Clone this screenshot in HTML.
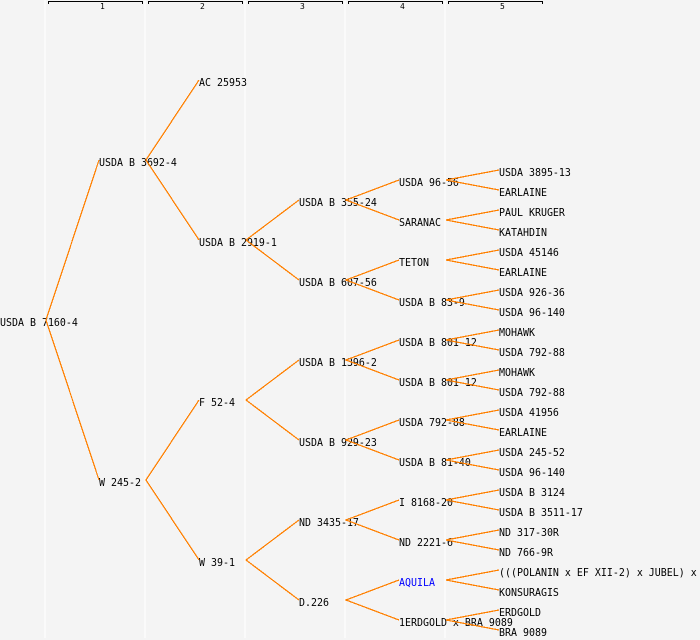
<!DOCTYPE html>
<html><head><meta charset="utf-8"><style>
html,body{margin:0;padding:0;background:#f4f4f4}
svg{display:block}
text{font-family:"DejaVu Sans Mono","Liberation Mono",monospace;font-size:11px;fill:#000}
.h{font-size:8px}
.w line{stroke:#fff;stroke-width:1}
.b path{fill:none;stroke:#000;stroke-width:1}
.l path{fill:none;stroke:#ff8000;stroke-width:1.25}
</style></head><body>
<svg width="700" height="640" viewBox="0 0 700 640" xmlns="http://www.w3.org/2000/svg">
<rect width="700" height="640" fill="#f4f4f4"/>
<g class="w" shape-rendering="crispEdges">
<line x1="45" y1="0" x2="45" y2="638"/><line x1="145" y1="0" x2="145" y2="638"/><line x1="245" y1="0" x2="245" y2="638"/><line x1="345" y1="0" x2="345" y2="638"/><line x1="445" y1="0" x2="445" y2="638"/>
</g>
<g class="b" shape-rendering="crispEdges">
<path d="M48.5 4V1.5H142.5V4"/><path d="M148.5 4V1.5H242.5V4"/><path d="M248.5 4V1.5H342.5V4"/><path d="M348.5 4V1.5H442.5V4"/><path d="M448.5 4V1.5H542.5V4"/>
</g>
<g>
<text class="h" x="100" y="9">1</text><text class="h" x="200" y="9">2</text><text class="h" x="300" y="9">3</text><text class="h" x="400" y="9">4</text><text class="h" x="500" y="9">5</text>
</g>
<g>
<text transform="matrix(.9057 0 0 1 0 326)">USDA B 7160-4</text>
<text transform="matrix(.9057 0 0 1 99 166)">USDA B 3692-4</text>
<text transform="matrix(.9057 0 0 1 99 486)">W 245-2</text>
<text transform="matrix(.9057 0 0 1 199 86)">AC 25953</text>
<text transform="matrix(.9057 0 0 1 199 246)">USDA B 2919-1</text>
<text transform="matrix(.9057 0 0 1 199 406)">F 52-4</text>
<text transform="matrix(.9057 0 0 1 199 566)">W 39-1</text>
<text transform="matrix(.9057 0 0 1 299 206)">USDA B 355-24</text>
<text transform="matrix(.9057 0 0 1 299 286)">USDA B 607-56</text>
<text transform="matrix(.9057 0 0 1 299 366)">USDA B 1396-2</text>
<text transform="matrix(.9057 0 0 1 299 446)">USDA B 929-23</text>
<text transform="matrix(.9057 0 0 1 299 526)">ND 3435-17</text>
<text transform="matrix(.9057 0 0 1 299 606)">D.226</text>
<text transform="matrix(.9057 0 0 1 399 186)">USDA 96-56</text>
<text transform="matrix(.9057 0 0 1 399 226)">SARANAC</text>
<text transform="matrix(.9057 0 0 1 399 266)">TETON</text>
<text transform="matrix(.9057 0 0 1 399 306)">USDA B 83-9</text>
<text transform="matrix(.9057 0 0 1 399 346)">USDA B 801-12</text>
<text transform="matrix(.9057 0 0 1 399 386)">USDA B 801-12</text>
<text transform="matrix(.9057 0 0 1 399 426)">USDA 792-88</text>
<text transform="matrix(.9057 0 0 1 399 466)">USDA B 81-40</text>
<text transform="matrix(.9057 0 0 1 399 506)">I 8168-20</text>
<text transform="matrix(.9057 0 0 1 399 546)">ND 2221-6</text>
<text transform="matrix(.9057 0 0 1 399 586)" style="fill:#0000ff">AQUILA</text>
<text transform="matrix(.9057 0 0 1 399 626)">1ERDGOLD x BRA 9089</text>
<text transform="matrix(.9057 0 0 1 499 176)">USDA 3895-13</text>
<text transform="matrix(.9057 0 0 1 499 196)">EARLAINE</text>
<text transform="matrix(.9057 0 0 1 499 216)">PAUL KRUGER</text>
<text transform="matrix(.9057 0 0 1 499 236)">KATAHDIN</text>
<text transform="matrix(.9057 0 0 1 499 256)">USDA 45146</text>
<text transform="matrix(.9057 0 0 1 499 276)">EARLAINE</text>
<text transform="matrix(.9057 0 0 1 499 296)">USDA 926-36</text>
<text transform="matrix(.9057 0 0 1 499 316)">USDA 96-140</text>
<text transform="matrix(.9057 0 0 1 499 336)">MOHAWK</text>
<text transform="matrix(.9057 0 0 1 499 356)">USDA 792-88</text>
<text transform="matrix(.9057 0 0 1 499 376)">MOHAWK</text>
<text transform="matrix(.9057 0 0 1 499 396)">USDA 792-88</text>
<text transform="matrix(.9057 0 0 1 499 416)">USDA 41956</text>
<text transform="matrix(.9057 0 0 1 499 436)">EARLAINE</text>
<text transform="matrix(.9057 0 0 1 499 456)">USDA 245-52</text>
<text transform="matrix(.9057 0 0 1 499 476)">USDA 96-140</text>
<text transform="matrix(.9057 0 0 1 499 496)">USDA B 3124</text>
<text transform="matrix(.9057 0 0 1 499 516)">USDA B 3511-17</text>
<text transform="matrix(.9057 0 0 1 499 536)">ND 317-30R</text>
<text transform="matrix(.9057 0 0 1 499 556)">ND 766-9R</text>
<text transform="matrix(.9057 0 0 1 499 576)">(((POLANIN x EF XII-2) x JUBEL) x</text>
<text transform="matrix(.9057 0 0 1 499 596)">KONSURAGIS</text>
<text transform="matrix(.9057 0 0 1 499 616)">ERDGOLD</text>
<text transform="matrix(.9057 0 0 1 499 636)">BRA 9089</text>
</g>
<g class="l" shape-rendering="crispEdges">
<path d="M99 160L46 320L99 480"/>
<path d="M199 80L146 160L199 240"/>
<path d="M199 400L146 480L199 560"/>
<path d="M299 200L246 240L299 280"/>
<path d="M299 360L246 400L299 440"/>
<path d="M299 520L246 560L299 600"/>
<path d="M399 180L346 200L399 220"/>
<path d="M399 260L346 280L399 300"/>
<path d="M399 340L346 360L399 380"/>
<path d="M399 420L346 440L399 460"/>
<path d="M399 500L346 520L399 540"/>
<path d="M399 580L346 600L399 620"/>
<path d="M499 170L446 180L499 190"/>
<path d="M499 210L446 220L499 230"/>
<path d="M499 250L446 260L499 270"/>
<path d="M499 290L446 300L499 310"/>
<path d="M499 330L446 340L499 350"/>
<path d="M499 370L446 380L499 390"/>
<path d="M499 410L446 420L499 430"/>
<path d="M499 450L446 460L499 470"/>
<path d="M499 490L446 500L499 510"/>
<path d="M499 530L446 540L499 550"/>
<path d="M499 570L446 580L499 590"/>
<path d="M499 610L446 620L499 630"/>
</g>
</svg>
</body></html>
